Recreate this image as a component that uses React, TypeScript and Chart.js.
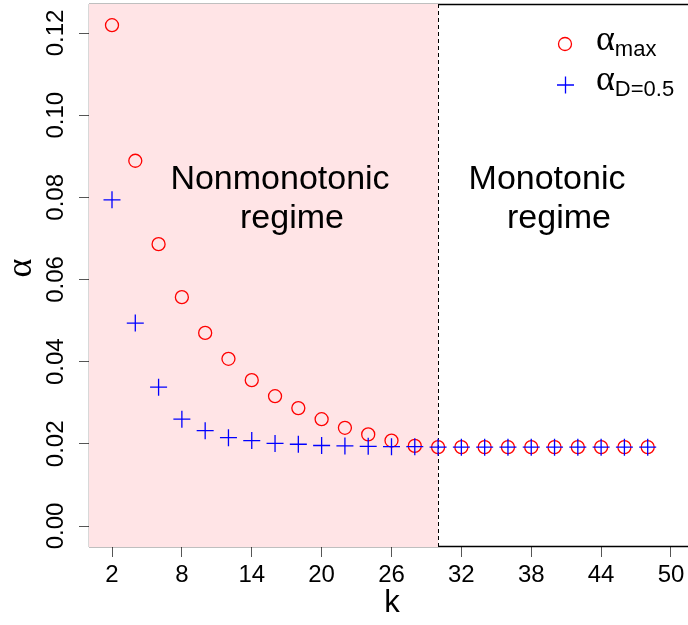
import React, { useEffect, useRef } from "react";
import { Chart, registerables } from "chart.js";
Chart.register(...registerables);

const kValues = [2, 4, 6, 8, 10, 12, 14, 16, 18, 20, 22, 24, 26, 28, 30, 32, 34, 36, 38, 40, 42, 44, 46, 48];
const alphaMax = [0.1219, 0.0889, 0.0686, 0.0557, 0.0470, 0.0407, 0.0355, 0.0316, 0.0287, 0.0260, 0.0239, 0.0223, 0.0208, 0.0195, 0.0192, 0.0192, 0.0192, 0.0192, 0.0192, 0.0192, 0.0192, 0.0192, 0.0192, 0.0192];
const alphaD = [0.0794, 0.0494, 0.0338, 0.0260, 0.0232, 0.0215, 0.0208, 0.0201, 0.0199, 0.0196, 0.0195, 0.0194, 0.0193, 0.0193, 0.0192, 0.0192, 0.0192, 0.0192, 0.0192, 0.0192, 0.0192, 0.0192, 0.0192, 0.0192];
const xTickValues = [2, 8, 14, 20, 26, 32, 38, 44, 50];
const xTickLabels = ["2", "8", "14", "20", "26", "32", "38", "44", "50"];
const yTickValues = [0, 0.02, 0.04, 0.06, 0.08, 0.1, 0.12];
const yTickLabels = ["0.00", "0.02", "0.04", "0.06", "0.08", "0.10", "0.12"];
const regimeBoundary = 30;
const legendMain = ["α", "α"];
const legendSub = ["max", "D=0.5"];

const SANS = "'Liberation Sans', Arial, Helvetica, sans-serif";
const SERIF = "'Liberation Serif', 'Times New Roman', serif";

export default function App() {
  const ref = useRef<HTMLCanvasElement>(null);
  useEffect(() => {
    if (!ref.current) return;
    const decor = {
      id: "decor",
      beforeDatasetsDraw(chart: any) {
        const { ctx, chartArea: a, scales } = chart;
        const x = scales.x;
        ctx.save();
        // box
        ctx.strokeStyle = "#000";
        ctx.lineWidth = 1.3;
        ctx.beginPath();
        ctx.moveTo(a.left, a.top + 0.5);
        ctx.lineTo(a.right + 5, a.top + 0.5);
        ctx.moveTo(a.left, a.bottom - 0.5);
        ctx.lineTo(a.right + 5, a.bottom - 0.5);
        ctx.moveTo(a.left + 0.5, a.top);
        ctx.lineTo(a.left + 0.5, a.bottom);
        ctx.stroke();
        // pink region
        const bx = x.getPixelForValue(regimeBoundary);
        ctx.fillStyle = "rgb(255,228,230)";
        ctx.fillRect(a.left, a.top, bx - a.left, a.bottom - a.top);
        // dashed boundary
        ctx.strokeStyle = "#000";
        ctx.lineWidth = 1;
        ctx.setLineDash([4, 3]);
        ctx.beginPath();
        const lx = Math.round(bx) + 0.5;
        ctx.moveTo(lx, a.top);
        ctx.lineTo(lx, a.bottom);
        ctx.stroke();
        ctx.setLineDash([]);
        // regime texts
        ctx.fillStyle = "#000";
        ctx.font = `34px ${SANS}`;
        ctx.textAlign = "center";
        ctx.textBaseline = "alphabetic";
        ctx.fillText("Nonmonotonic", 280, 189);
        ctx.fillText("regime", 292, 228);
        ctx.fillText("Monotonic", 547, 189);
        ctx.fillText("regime", 559, 228);
        ctx.restore();
      },
      afterDraw(chart: any) {
        const { ctx, scales } = chart;
        const x = scales.x;
        const y = scales.y;
        ctx.save();
        ctx.fillStyle = "#000";
        ctx.font = `24px ${SANS}`;
        ctx.textAlign = "center";
        ctx.textBaseline = "middle";
        xTickValues.forEach((v, i) => {
          ctx.fillText(xTickLabels[i], x.getPixelForValue(v), 575);
        });
        yTickValues.forEach((v, i) => {
          ctx.save();
          ctx.translate(56, y.getPixelForValue(v));
          ctx.rotate(-Math.PI / 2);
          ctx.fillText(yTickLabels[i], 0, 0);
          ctx.restore();
        });
        // axis titles
        ctx.font = `31px ${SANS}`;
        ctx.fillText("k", 392, 603);
        ctx.save();
        ctx.translate(22, 268);
        ctx.rotate(-Math.PI / 2);
        ctx.font = `36px ${SERIF}`;
        ctx.fillText("α", 0, 0);
        ctx.restore();
        // legend
        ctx.textAlign = "left";
        ctx.textBaseline = "alphabetic";
        ctx.strokeStyle = "#FF0000";
        ctx.lineWidth = 1.3;
        ctx.beginPath();
        ctx.arc(565, 44, 6.5, 0, Math.PI * 2);
        ctx.stroke();
        ctx.strokeStyle = "#0000FF";
        ctx.beginPath();
        ctx.moveTo(557, 85);
        ctx.lineTo(574, 85);
        ctx.moveTo(565.5, 76.5);
        ctx.lineTo(565.5, 93.5);
        ctx.stroke();
        const rows = [50, 90];
        rows.forEach((base, i) => {
          ctx.font = `36px ${SERIF}`;
          ctx.fillText(legendMain[i], 596, base);
          const w = ctx.measureText(legendMain[i]).width;
          ctx.font = `22px ${SANS}`;
          ctx.fillText(legendSub[i], 596 + w, base + 6);
        });
        ctx.restore();
      },
    };
    const chart = new Chart(ref.current, {
      type: "scatter",
      data: {
        datasets: [
          {
            label: "alpha_max",
            data: kValues.map((k, i) => ({ x: k, y: alphaMax[i] })),
            pointStyle: "circle",
            pointRadius: 6.5,
            pointBorderWidth: 1.3,
            borderColor: "#FF0000",
            backgroundColor: "rgba(0,0,0,0)",
            showLine: false,
            order: 1,
          },
          {
            label: "alpha_D",
            data: kValues.map((k, i) => ({ x: k, y: alphaD[i] })),
            pointStyle: "cross",
            pointRadius: 8.5,
            pointBorderWidth: 1.3,
            borderColor: "#0000FF",
            backgroundColor: "#0000FF",
            showLine: false,
            order: 0,
          },
        ],
      },
      options: {
        responsive: false,
        maintainAspectRatio: false,
        animation: false,
        layout: { autoPadding: false, padding: { top: 4, left: 0, right: 0, bottom: 0 } },
        plugins: { legend: { display: false }, tooltip: { enabled: false } },
        scales: {
          x: {
            type: "linear",
            position: "bottom",
            min: 0.025,
            max: 51.46,
            afterBuildTicks: (s: any) => {
              s.ticks = xTickValues.map((v) => ({ value: v }));
            },
            afterFit: (s: any) => {
              s.height = 78;
            },
            ticks: { display: false },
            grid: { display: true, drawOnChartArea: false, drawTicks: true, tickLength: 10, color: "#555", lineWidth: 1 },
            border: { display: false },
          },
          y: {
            type: "linear",
            position: "left",
            min: -0.00511,
            max: 0.12706,
            afterBuildTicks: (s: any) => {
              s.ticks = yTickValues.map((v) => ({ value: v }));
            },
            afterFit: (s: any) => {
              s.width = 89;
            },
            ticks: { display: false },
            grid: { display: true, drawOnChartArea: false, drawTicks: true, tickLength: 10, color: "#555", lineWidth: 1 },
            border: { display: false },
          },
        },
      },
      plugins: [decor],
    });
    return () => chart.destroy();
  }, []);
  return (
    <div style={{ position: "absolute", left: 0, top: 0, width: 688, height: 625 }}>
      <canvas ref={ref} width={688} height={625} />
    </div>
  );
}
